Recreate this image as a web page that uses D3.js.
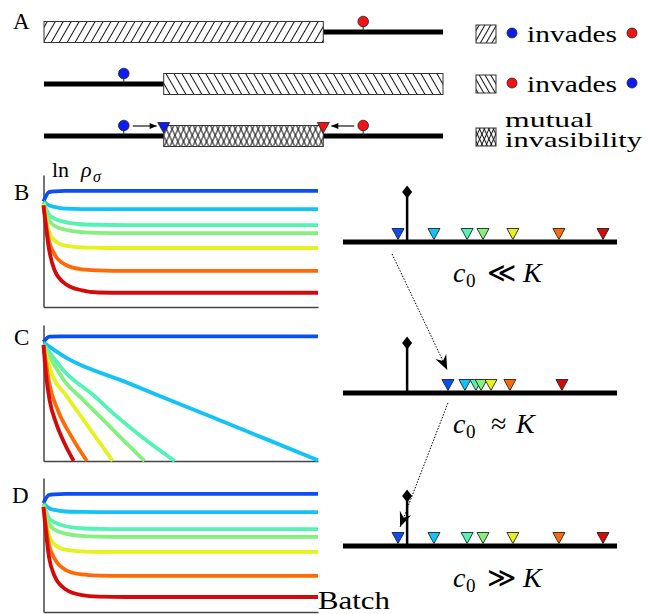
<!DOCTYPE html>
<html>
  <head>
    <meta charset="utf-8">
    <title>Invasion and batch dynamics</title>
    <script src="https://cdn.jsdelivr.net/npm/d3@7"></script>
    <style>
      body { margin: 0; background: #fff; }
      svg { display: block; font-family: "Liberation Serif", "Times New Roman", serif; }
      .axis path { stroke: #444; stroke-width: 1.5; fill: none; }
      .axis line, .axis text { display: none; }
    </style>
  </head>
  <body>
    <svg id="chart" width="652" height="614"></svg>
    <script>
      // strain colours, blue to red
      const strainColours = ["#0a4ef5", "#12c3f7", "#52f3b4", "#84f07e", "#e6f21c", "#ff6a05", "#d20a0a"];

      // panel A, positions along the line (0-100)
      const barsA = [[0, 70], [30, 100], [30, 70]];
      const blueCircleA = 20, redCircleA = 80, blueTriA = 30, redTriA = 70;

      // panels B and D: ln rho sampled at these batches (0 = axis bottom, 100 = axis top)
      const batches = [0, 1, 2, 4, 7, 10, 15, 50];
      const curvesB = [
        [80, 87, 87.6, 87.9, 87.9, 87.9, 87.9, 87.9],
        [80, 77, 75.8, 74.5, 74.2, 74.2, 74.2, 74.2],
        [79.5, 70, 67, 64.3, 62.7, 62.3, 62.1, 62.1],
        [79, 66, 61.5, 58.5, 56.8, 56.2, 56, 56],
        [78, 57, 50.5, 46.5, 45.2, 44.9, 44.7, 44.7],
        [77, 50, 40, 32, 28.5, 27.7, 27.3, 27.3],
        [77, 44, 28, 17.5, 12.6, 11, 10.8, 10.8]
      ];
      const curvesD = [
        [81.3, 87.3, 87.8, 88.1, 88.1, 88.1, 88.1, 88.1],
        [81, 77.5, 76.2, 75, 74.7, 74.6, 74.6, 74.6],
        [80.5, 70, 67, 64, 62.5, 62.1, 61.9, 61.9],
        [80, 66, 61.5, 58.5, 56.8, 56.2, 56, 56],
        [79, 57, 50.5, 46.5, 45.2, 44.9, 44.8, 44.8],
        [78.4, 50, 40, 31.5, 28, 27.2, 26.9, 26.9],
        [78.4, 41, 27, 17, 12.6, 11.5, 11.2, 11.2]
      ];
      // panel C: [batch, ln rho] pairs
      const curvesC = [
        [[0, 87.5], [1.1, 91.4], [3, 91.7], [50, 91.7]],
        [[0, 87], [4.1, 76], [15, 58], [25, 41.6], [40, 17], [50, 0.5]],
        [[0, 86], [4.1, 64.7], [9, 48.7], [13.3, 33], [18, 17.5], [23.9, 0]],
        [[0, 85], [4.1, 57.4], [7, 45.8], [10.2, 33], [14, 17.6], [18.4, 0]],
        [[0, 84.5], [1.7, 62], [4, 48.9], [6.0, 37.5], [9, 20.5], [12.6, 0]],
        [[0, 85.3], [1.1, 55.9], [2.6, 37.5], [5.1, 17.9], [7.9, 0]],
        [[0, 85.3], [0.5, 62], [1.1, 44.9], [2.3, 27.9], [3.8, 13.2], [5.5, 0]]
      ];

      // right hand number lines (0-100)
      const diamondPos = 23.4;
      const posB = [20.1, 33.2, 45.3, 51.1, 62.0, 78.8, 94.9];
      const posC = [38.3, 44.5, 48.5, 50.4, 54.0, 60.9, 79.9];
      const posD = [20.1, 33.2, 45.3, 51.1, 62.0, 78.8, 94.9];

      const svg = d3.select("#chart");
      const defs = svg.append("defs");

      // hatch patterns
      function hatch(id, angle, gap) {
        const p = defs.append("pattern")
          .attr("id", id)
          .attr("patternUnits", "userSpaceOnUse")
          .attr("width", gap)
          .attr("height", 10)
          .attr("patternTransform", "rotate(" + angle + ")");
        p.append("line")
          .attr("x1", gap / 2).attr("x2", gap / 2)
          .attr("y1", 0).attr("y2", 10)
          .attr("stroke", "#111")
          .attr("stroke-width", 1);
      }
      hatch("fwd", 30, 6.9);
      hatch("back", -30, 6.9);
      hatch("crossA", 25, 5.2);
      hatch("crossB", -25, 5.2);
      hatch("fwdS", 30, 5);
      hatch("backS", -30, 5);
      hatch("crossAS", 25, 4.2);
      hatch("crossBS", -25, 4.2);
      const fillsA = [["fwd"], ["back"], ["crossA", "crossB"]];
      const fillsLegend = [["fwdS"], ["backS"], ["crossAS", "crossBS"]];

      // arrow heads
      defs.append("marker")
        .attr("id", "small")
        .attr("viewBox", "-8 -4 9 8")
        .attr("markerUnits", "userSpaceOnUse")
        .attr("markerWidth", 9).attr("markerHeight", 8)
        .attr("refX", 0).attr("refY", 0)
        .attr("orient", "auto")
        .append("path").attr("d", "M0,0L-7,-3L-7,3Z").attr("fill", "#000");
      defs.append("marker")
        .attr("id", "stealth")
        .attr("viewBox", "-16 -7 17 14")
        .attr("markerUnits", "userSpaceOnUse")
        .attr("markerWidth", 17).attr("markerHeight", 14)
        .attr("refX", 0).attr("refY", 0)
        .attr("orient", "auto")
        .append("path").attr("d", "M0,0L-15,-6L-10,0L-15,6Z").attr("fill", "#000");

      function tri(cx, top, tip, half) {
        return "M" + (cx - half) + "," + top + "L" + (cx + half) + "," + top + "L" + cx + "," + tip + "Z";
      }

      // panel A
      const xa = d3.scaleLinear().domain([0, 100]).range([44, 443]);
      const rowY = [32, 84, 136];
      const panelA = svg.append("g");
      barsA.forEach(function(b, i) {
        const ly = rowY[i];
        panelA.append("line")
          .attr("x1", xa(0)).attr("x2", xa(100))
          .attr("y1", ly).attr("y2", ly)
          .attr("stroke", "#000").attr("stroke-width", 5);
        const by = ly - 10.5;
        panelA.append("rect")
          .attr("x", xa(b[0])).attr("y", by)
          .attr("width", xa(b[1]) - xa(b[0])).attr("height", 21)
          .attr("fill", "#fff");
        fillsA[i].forEach(function(f) {
          panelA.append("rect")
            .attr("x", xa(b[0])).attr("y", by)
            .attr("width", xa(b[1]) - xa(b[0])).attr("height", 21)
            .attr("fill", "url(#" + f + ")");
        });
        panelA.append("rect")
          .attr("x", xa(b[0])).attr("y", by)
          .attr("width", xa(b[1]) - xa(b[0])).attr("height", 21)
          .attr("fill", "none").attr("stroke", "#333").attr("stroke-width", 1);
      });
      // lollipops
      const lollies = [[redCircleA, 0, "#f01414"], [blueCircleA, 1, "#0c1cf2"], [blueCircleA, 2, "#0c1cf2"], [redCircleA, 2, "#f01414"]];
      lollies.forEach(function(d) {
        const cx = xa(d[0]), ly = rowY[d[1]];
        panelA.append("line")
          .attr("x1", cx).attr("x2", cx)
          .attr("y1", ly - 10).attr("y2", ly)
          .attr("stroke", "#222").attr("stroke-width", 1);
        panelA.append("circle")
          .attr("cx", cx).attr("cy", ly - 10.5).attr("r", 5.3)
          .attr("fill", d[2]).attr("stroke", "#222").attr("stroke-width", 0.8);
      });
      // triangles and arrows on the mutual row
      panelA.append("path").attr("d", tri(xa(blueTriA), rowY[2] - 13.5, rowY[2] - 3, 6))
        .attr("fill", "#0c1cf2").attr("stroke", "#222").attr("stroke-width", 0.8);
      panelA.append("path").attr("d", tri(xa(redTriA), rowY[2] - 13.5, rowY[2] - 3, 6))
        .attr("fill", "#f01414").attr("stroke", "#222").attr("stroke-width", 0.8);
      panelA.append("line")
        .attr("x1", xa(blueCircleA) + 9).attr("x2", xa(blueTriA) - 7)
        .attr("y1", rowY[2] - 10).attr("y2", rowY[2] - 10)
        .attr("stroke", "#000").attr("stroke-width", 1.1)
        .attr("marker-end", "url(#small)");
      panelA.append("line")
        .attr("x1", xa(redCircleA) - 9).attr("x2", xa(redTriA) + 8)
        .attr("y1", rowY[2] - 10).attr("y2", rowY[2] - 10)
        .attr("stroke", "#000").attr("stroke-width", 1.1)
        .attr("marker-end", "url(#small)");

      // legend
      const legend = svg.append("g");
      const legendY = [25, 75, 128];
      legendY.forEach(function(ly, i) {
        fillsLegend[i].forEach(function(f) {
          legend.append("rect")
            .attr("x", 476).attr("y", ly).attr("width", 20).attr("height", 18)
            .attr("fill", "url(#" + f + ")");
        });
        legend.append("rect")
          .attr("x", 476).attr("y", ly).attr("width", 20).attr("height", 18)
          .attr("fill", "none").attr("stroke", "#333").attr("stroke-width", 1);
      });
      [[33, "#0c1cf2", "#f01414", 42], [83, "#f01414", "#0c1cf2", 92]].forEach(function(r) {
        legend.append("circle").attr("cx", 512).attr("cy", r[0]).attr("r", 5)
          .attr("fill", r[1]).attr("stroke", "#222").attr("stroke-width", 0.8);
        legend.append("circle").attr("cx", 632).attr("cy", r[0]).attr("r", 5)
          .attr("fill", r[2]).attr("stroke", "#222").attr("stroke-width", 0.8);
        legend.append("text").attr("x", 527).attr("y", r[3])
          .attr("font-size", 24).attr("textLength", 90).attr("lengthAdjust", "spacingAndGlyphs")
          .text("invades");
      });
      legend.append("text").attr("x", 505).attr("y", 127)
        .attr("font-size", 22).attr("textLength", 88).attr("lengthAdjust", "spacingAndGlyphs")
        .text("mutual");
      legend.append("text").attr("x", 505).attr("y", 147)
        .attr("font-size", 22).attr("textLength", 137).attr("lengthAdjust", "spacingAndGlyphs")
        .text("invasibility");

      // panel letters
      [["A", 13, 29], ["B", 14, 200], ["C", 14, 345], ["D", 12, 503]].forEach(function(l) {
        svg.append("text").attr("x", l[1]).attr("y", l[2]).attr("font-size", 23).text(l[0]);
      });

      // left hand time series
      const x = d3.scaleLinear().domain([0, 50]).range([43.5, 318]);
      const panels = [
        { top: 175, bottom: 307, curves: curvesB.map(function(c) { return c.map(function(v, i) { return [batches[i], v]; }); }) },
        { top: 325, bottom: 461, curves: curvesC },
        { top: 478, bottom: 612, curves: curvesD.map(function(c) { return c.map(function(v, i) { return [batches[i], v]; }); }) }
      ];
      panels.forEach(function(p) {
        const y = d3.scaleLinear().domain([0, 100]).range([p.bottom, p.top]);
        const g = svg.append("g");
        g.append("g").attr("class", "axis")
          .attr("transform", "translate(43.5,0)")
          .call(d3.axisLeft(y).tickValues([]).tickSizeOuter(0));
        g.append("g").attr("class", "axis")
          .attr("transform", "translate(0," + p.bottom + ")")
          .call(d3.axisBottom(x).tickValues([]).tickSizeOuter(0));
        const line = d3.line()
          .x(function(d) { return x(d[0]); })
          .y(function(d) { return y(d[1]); })
          .curve(d3.curveMonotoneX);
        g.selectAll(".curve")
          .data(p.curves)
          .enter()
          .append("path")
            .attr("class", "curve")
            .attr("d", line)
            .attr("fill", "none")
            .attr("stroke", function(d, i) { return strainColours[i]; })
            .attr("stroke-width", 3.8);
      });

      // axis labels
      const yLabel = svg.append("text").attr("y", 177).attr("font-size", 22);
      yLabel.append("tspan").attr("x", 52).text("ln");
      yLabel.append("tspan").attr("x", 81).attr("font-style", "italic").text("ρ");
      yLabel.append("tspan").attr("x", 93).attr("dy", 5).attr("font-size", 16).attr("font-style", "italic").text("σ");
      svg.append("text").attr("x", 318).attr("y", 609)
        .attr("font-size", 26).attr("textLength", 72).attr("lengthAdjust", "spacingAndGlyphs")
        .text("Batch");

      // right hand number lines
      const xr = d3.scaleLinear().domain([0, 100]).range([343, 617]);
      const lines = [
        { y: 242, pos: posB, sym: "≪", symX: 487, baseline: 282, kx: 523 },
        { y: 393, pos: posC, sym: "≈", symX: 491, baseline: 433, kx: 516 },
        { y: 546, pos: posD, sym: "≫", symX: 487, baseline: 587, kx: 523 }
      ];
      lines.forEach(function(l) {
        const g = svg.append("g");
        g.append("line")
          .attr("x1", xr(0)).attr("x2", xr(100))
          .attr("y1", l.y).attr("y2", l.y)
          .attr("stroke", "#000").attr("stroke-width", 5);
        const dx = xr(diamondPos);
        g.append("line")
          .attr("x1", dx).attr("x2", dx)
          .attr("y1", l.y - 50).attr("y2", l.y)
          .attr("stroke", "#000").attr("stroke-width", 2.5);
        g.append("path")
          .attr("d", "M" + dx + "," + (l.y - 56.5) + "L" + (dx + 5) + "," + (l.y - 50) + "L" + dx + "," + (l.y - 43.5) + "L" + (dx - 5) + "," + (l.y - 50) + "Z")
          .attr("fill", "#000");
        g.selectAll(".tri")
          .data(l.pos)
          .enter()
          .append("path")
            .attr("class", "tri")
            .attr("d", function(d) { return tri(xr(d), l.y - 13.5, l.y - 2.5, 6); })
            .attr("fill", function(d, i) { return strainColours[i]; })
            .attr("stroke", "#222")
            .attr("stroke-width", 0.9);
        const t = g.append("text").attr("y", l.baseline).attr("font-size", 28);
        t.append("tspan").attr("x", 453).attr("font-style", "italic").text("c");
        t.append("tspan").attr("x", 466).attr("dy", 5).attr("font-size", 19).text("0");
        t.append("tspan").attr("x", l.symX).attr("dy", -5).text(l.sym);
        t.append("tspan").attr("x", l.kx).attr("font-style", "italic").text("K");
      });

      // dotted arrows between panels
      svg.append("line")
        .attr("x1", xr(posB[0]) - 6).attr("y1", lines[0].y + 12)
        .attr("x2", xr(posC[0]) - 0.7).attr("y2", lines[1].y - 23)
        .attr("stroke", "#000").attr("stroke-width", 1).attr("stroke-dasharray", "1.5,1.5")
        .attr("marker-end", "url(#stealth)");
      svg.append("line")
        .attr("x1", xr(posC[0])).attr("y1", lines[1].y + 10)
        .attr("x2", xr(posD[0]) + 2).attr("y2", lines[2].y - 19)
        .attr("stroke", "#000").attr("stroke-width", 1).attr("stroke-dasharray", "1.5,1.5")
        .attr("marker-end", "url(#stealth)");
    </script>
  </body>
</html>
